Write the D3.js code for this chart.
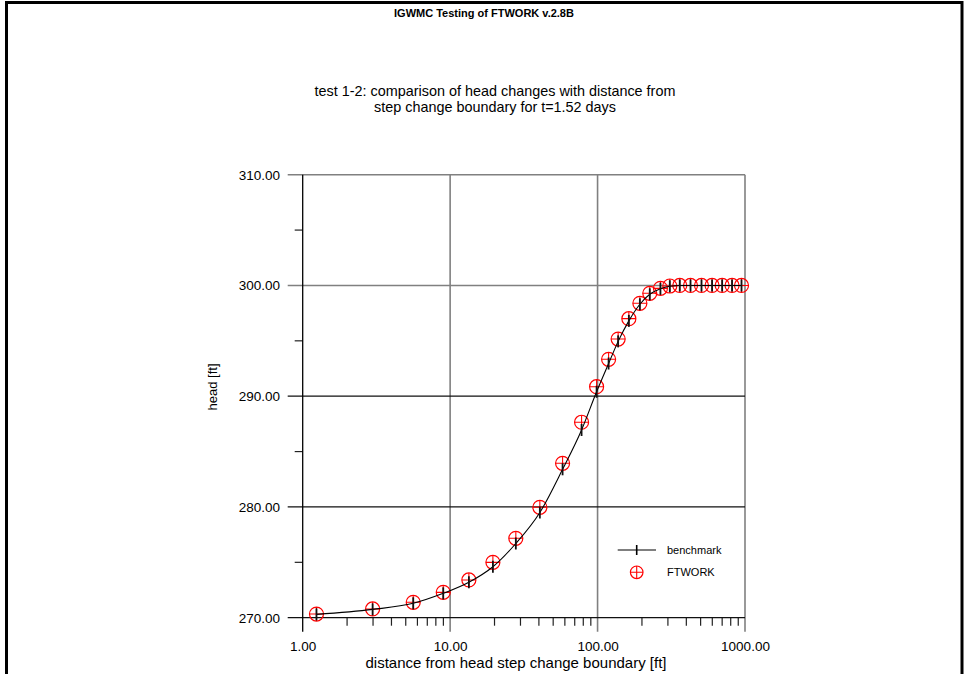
<!DOCTYPE html>
<html>
<head>
<meta charset="utf-8">
<script src="https://cdn.jsdelivr.net/npm/d3@7"></script>
<style>
  body { margin: 0; background: #fff; }
  svg { display: block; font-family: "Liberation Sans", Arial, sans-serif; }
</style>
</head>
<body>
<script>
// distance from the step change boundary [ft]
var distance = [1.24, 2.98, 5.62, 8.98, 13.4, 19.5, 27.9, 40.6, 57.9, 77.9, 98.5, 118.8, 137.9, 163, 193.6, 226, 267, 309, 361, 427, 507, 598, 700, 817, 947];
// head [ft]
var ftwork = [270.33, 270.79, 271.39, 272.29, 273.41, 275.0, 277.17, 279.97, 283.94, 287.65, 290.86, 293.33, 295.16, 297.0, 298.39, 299.29, 299.74, 299.95, 300, 300, 300, 300, 300, 300, 300];
var benchmark = [270.3, 270.75, 271.3, 272.2, 273.2, 274.6, 276.7, 279.5, 283.4, 286.95, 290.4, 292.95, 294.95, 296.8, 298.3, 299.2, 299.7, 299.93, 300, 300, 300, 300, 300, 300, 300];

var xMajor = [1, 10, 100, 1000];
var yMajor = [270, 280, 290, 300, 310];
var yMinor = [275, 285, 295, 305];
var grayRows = [300, 310];

var width = 966,
    height = 674;

var svg = d3.select("body").append("svg")
    .attr("width", width)
    .attr("height", height);

var x = d3.scaleLog().domain([1, 1000]).range([302.7, 745]);
var y = d3.scaleLinear().domain([270, 310]).range([617.7, 174.7]);

// outer frame
svg.append("rect")
    .attr("x", 6.5).attr("y", 2.5)
    .attr("width", 955.5).attr("height", 720)
    .attr("fill", "none")
    .attr("stroke", "#000")
    .attr("stroke-width", 3);

svg.append("text")
    .attr("x", 484).attr("y", 17)
    .attr("text-anchor", "middle")
    .style("font-size", "11px")
    .style("font-weight", "bold")
    .text("IGWMC Testing of FTWORK v.2.8B");

var sub = svg.append("text")
    .attr("text-anchor", "middle")
    .style("font-size", "14.4px");
sub.append("tspan").attr("x", 495).attr("y", 96)
    .text("test 1-2: comparison of head changes with distance from");
sub.append("tspan").attr("x", 495).attr("y", 112)
    .text("step change boundary for t=1.52 days");

// minor x ticks
var xMinor = [];
[1, 10, 100].forEach(function(d) {
  for (var k = 2; k < 10; k++) xMinor.push(d * k);
});

var grid = svg.append("g");

grid.selectAll(".xminor")
    .data(xMinor)
  .enter().append("line")
    .attr("x1", function(d) { return x(d); })
    .attr("x2", function(d) { return x(d); })
    .attr("y1", y(270)).attr("y2", y(270) + 8)
    .attr("stroke", "#222").attr("stroke-width", 1.2);

grid.selectAll(".yminor")
    .data(yMinor)
  .enter().append("line")
    .attr("x1", x(1) - 8).attr("x2", x(1))
    .attr("y1", function(d) { return y(d); })
    .attr("y2", function(d) { return y(d); })
    .attr("stroke", "#222").attr("stroke-width", 1.2);

// vertical grid lines
grid.selectAll(".vgrid")
    .data(xMajor.slice(1))
  .enter().append("line")
    .attr("x1", function(d) { return x(d); })
    .attr("x2", function(d) { return x(d); })
    .attr("y1", y(310)).attr("y2", y(270) + 14)
    .attr("stroke", "#808080").attr("stroke-width", 1.6);

// horizontal grid lines
grid.selectAll(".hgrid")
    .data(yMajor)
  .enter().append("line")
    .attr("x1", x(1) - 15).attr("x2", x(1000))
    .attr("y1", function(d) { return y(d); })
    .attr("y2", function(d) { return y(d); })
    .attr("stroke", function(d) { return grayRows.indexOf(d) >= 0 ? "#808080" : "#111"; })
    .attr("stroke-width", function(d) { return grayRows.indexOf(d) >= 0 ? 1.6 : 1.2; });

// left axis line
grid.append("line")
    .attr("x1", x(1)).attr("x2", x(1))
    .attr("y1", y(310)).attr("y2", y(270) + 14)
    .attr("stroke", "#000").attr("stroke-width", 1.3);

// tick labels
var fmt = d3.format(".2f");
svg.append("g")
    .attr("transform", "translate(" + x(1) + ",0)")
    .call(d3.axisLeft(y).tickValues(yMajor).tickFormat(fmt).tickSize(15).tickPadding(7.7))
    .call(function(g) {
      g.select(".domain").remove();
      g.selectAll(".tick line").remove();
      g.selectAll("text").style("font-size", "13.5px").attr("fill", "#000");
    });

svg.append("g")
    .attr("transform", "translate(0," + y(270) + ")")
    .call(d3.axisBottom(x).tickValues(xMajor).tickFormat(fmt).tickSize(14).tickPadding(10))
    .call(function(g) {
      g.select(".domain").remove();
      g.selectAll(".tick line").remove();
      g.selectAll("text").style("font-size", "13.5px").attr("fill", "#000");
    });

svg.append("text")
    .attr("x", 516).attr("y", 668)
    .attr("text-anchor", "middle")
    .style("font-size", "15px")
    .text("distance from head step change boundary [ft]");

svg.append("text")
    .attr("transform", "translate(217,387) rotate(-90)")
    .attr("text-anchor", "middle")
    .style("font-size", "13px")
    .text("head [ft]");

// FTWORK markers
var r = 7;
var ft = svg.append("g")
    .selectAll("g")
    .data(distance)
  .enter().append("g")
    .attr("transform", function(d, i) { return "translate(" + x(d) + "," + y(ftwork[i]) + ")"; });
ft.append("circle").attr("r", r).attr("fill", "none").attr("stroke", "#f00").attr("stroke-width", 1.2);
ft.append("path").attr("d", "M" + (-r) + ",0H" + r + "M0," + (-r) + "V" + r)
    .attr("stroke", "#f00").attr("stroke-width", 1.1);

// benchmark line with tick markers
var line = d3.line()
    .x(function(d, i) { return x(distance[i]); })
    .y(function(d) { return y(d); })
    .curve(d3.curveMonotoneX);

svg.append("path")
    .datum(benchmark)
    .attr("d", line)
    .attr("fill", "none")
    .attr("stroke", "#000")
    .attr("stroke-width", 1.1);

svg.append("g")
    .selectAll("line")
    .data(benchmark)
  .enter().append("line")
    .attr("x1", function(d, i) { return x(distance[i]); })
    .attr("x2", function(d, i) { return x(distance[i]); })
    .attr("y1", function(d) { return y(d) - 6; })
    .attr("y2", function(d) { return y(d) + 6; })
    .attr("stroke", "#111")
    .attr("stroke-width", 1.8);

// legend
var legend = svg.append("g");
legend.append("line").attr("x1", 617.7).attr("x2", 656).attr("y1", 550).attr("y2", 550)
    .attr("stroke", "#000").attr("stroke-width", 1.1);
legend.append("line").attr("x1", 636.7).attr("x2", 636.7).attr("y1", 545).attr("y2", 555)
    .attr("stroke", "#000").attr("stroke-width", 1.6);
legend.append("circle").attr("cx", 636.7).attr("cy", 572.3).attr("r", 6.3)
    .attr("fill", "none").attr("stroke", "#f00").attr("stroke-width", 1.2);
legend.append("path").attr("d", "M630.4,572.3H643M636.7,566V578.6")
    .attr("stroke", "#f00").attr("stroke-width", 1.1);
legend.append("text").attr("x", 667).attr("y", 553.5).style("font-size", "11px").text("benchmark");
legend.append("text").attr("x", 667).attr("y", 576).style("font-size", "11px").text("FTWORK");
</script>
</body>
</html>
